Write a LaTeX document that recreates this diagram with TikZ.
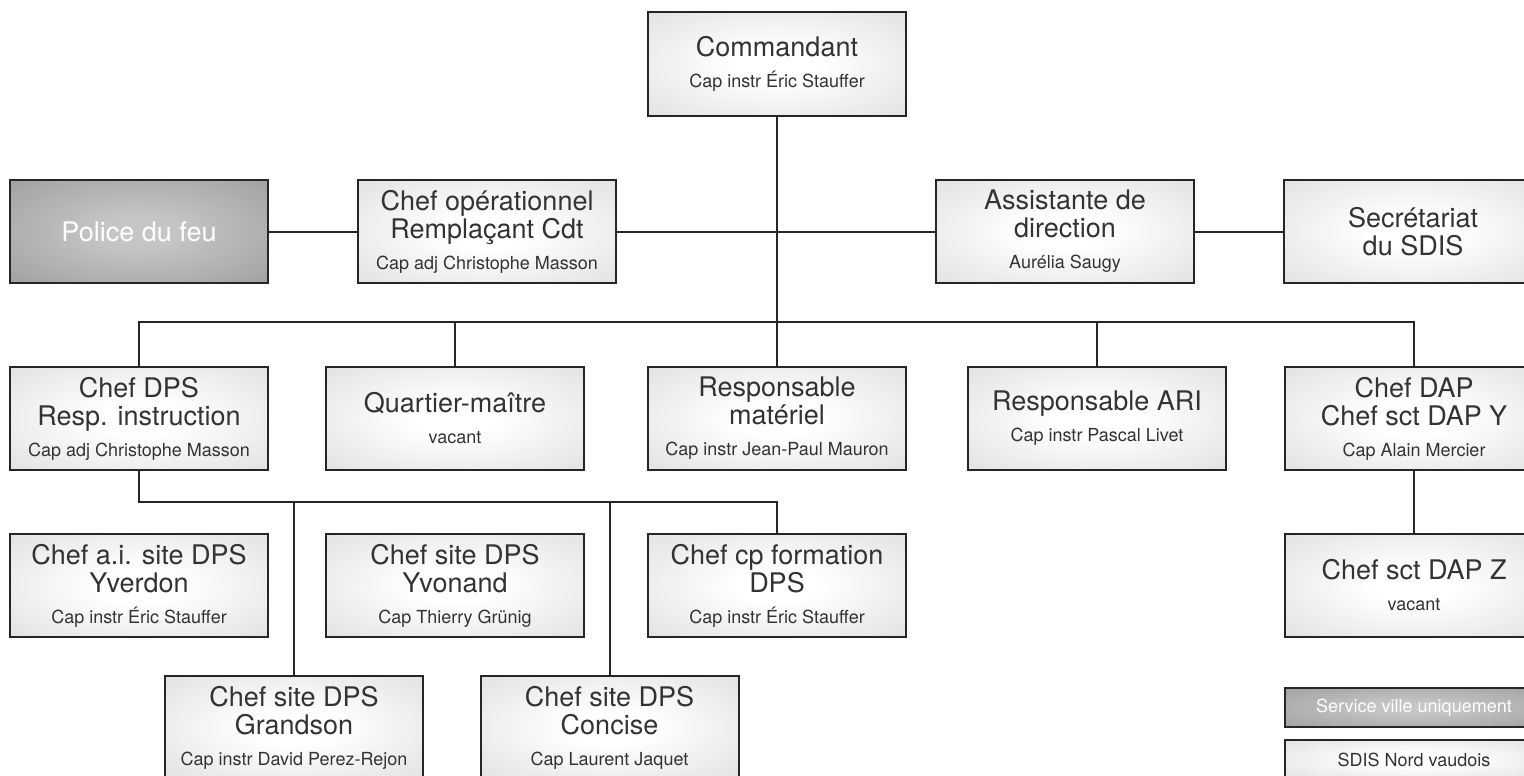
\documentclass[tikz,border=0pt]{standalone}
\usepackage{fontspec}
\setmainfont{TeX Gyre Heros}
\definecolor{txt}{HTML}{333333}
\definecolor{edge}{HTML}{262626}
\newcommand{\ttl}{\fontsize{27}{28}\selectfont}
\newcommand{\sbt}{\fontsize{18}{20}\selectfont}
\pgfdeclareradialshading{softlight}{\pgfpoint{0bp}{0bp}}{color(0bp)=(white); color(8bp)=(white); color(42bp)=(black!14); color(50bp)=(black!18)}
\pgfdeclareradialshading{softdark}{\pgfpoint{0bp}{0bp}}{color(0bp)=(black!22); color(8bp)=(black!23); color(42bp)=(black!40); color(50bp)=(black!46)}
\tikzset{
  box/.style={draw=edge, line width=2pt, minimum width=258pt, minimum height=103pt,
    inner sep=0pt, shading=softlight, text=txt, align=center, font=\ttl},
  darkbox/.style={box, shading=softdark, text=white},
  legbox/.style={minimum height=39pt, font=\sbt},
  conn/.style={draw=edge, line width=2pt},
}
\begin{document}
\begin{tikzpicture}[x=1pt,y=-1pt]
\useasboundingbox (0,0) rectangle (1524,776);
\clip (0,0) rectangle (1524,776);
% row 0
\node[box] (cmd) at (777,64) {Commandant\\[3pt]{\sbt Cap instr Éric Stauffer}};
% row 1
\node[darkbox] (pol) at (139,231.5) {Police du feu};
\node[box] (cop) at (487,231.5) {Chef opérationnel\\Remplaçant Cdt\\[3pt]{\sbt Cap adj Christophe Masson}};
\node[box] (ass) at (1065,231.5) {Assistante de\\direction\\[3pt]{\sbt Aurélia Saugy}};
\node[box] (sec) at (1413,231.5) {Secrétariat\\du SDIS};
% row 2
\node[box] (dps) at (139,418.5) {Chef DPS\\Resp. instruction\\[3pt]{\sbt Cap adj Christophe Masson}};
\node[box] (qm) at (455,418.5) {Quartier-maître\\[3pt]{\sbt vacant}};
\node[box] (rm) at (777,418.5) {Responsable\\matériel\\[3pt]{\sbt Cap instr Jean-Paul Mauron}};
\node[box] (ari) at (1097,418.5) {Responsable ARI\\[3pt]{\sbt Cap instr Pascal Livet}};
\node[box] (dap) at (1414,418.5) {Chef DAP\\Chef sct DAP Y\\[3pt]{\sbt Cap Alain Mercier}};
% row 3
\node[box] (yve) at (139,585.5) {Chef a.i. site DPS\\Yverdon\\[3pt]{\sbt Cap instr Éric Stauffer}};
\node[box] (yvo) at (455,585.5) {Chef site DPS\\Yvonand\\[3pt]{\sbt Cap Thierry Grünig}};
\node[box] (cpf) at (777,585.5) {Chef cp formation\\DPS\\[3pt]{\sbt Cap instr Éric Stauffer}};
\node[box] (dapz) at (1414,585.5) {Chef sct DAP Z\\[3pt]{\sbt vacant}};
% row 4
\node[box] (gra) at (294,727.5) {Chef site DPS\\Grandson\\[3pt]{\sbt Cap instr David Perez-Rejon}};
\node[box] (con) at (609.5,727.5) {Chef site DPS\\Concise\\[3pt]{\sbt Cap Laurent Jaquet}};
% legend
\node[darkbox, legbox] (leg1) at (1414,707.5) {Service ville uniquement};
\node[box, legbox] (leg2) at (1414,759.5) {SDIS Nord vaudois};
% connectors
\coordinate (bus) at (777,322);
\coordinate (sub) at (139,502);
\draw[conn] (cmd.south) -- (rm.north);
\draw[conn] (pol.east) -- (cop.west);
\draw[conn] (cop.east) -- (ass.west);
\draw[conn] (ass.east) -- (sec.west);
\draw[conn] (dps.north) |- (bus) -| (dap.north);
\draw[conn] (qm.north) -- (qm.north |- bus);
\draw[conn] (ari.north) -- (ari.north |- bus);
\draw[conn] (dps.south) |- (sub) -| (cpf.north);
\draw[conn] (gra.north) -- (gra.north |- sub);
\draw[conn] (con.north) -- (con.north |- sub);
\draw[conn] (dap.south) -- (dapz.north);
\end{tikzpicture}
\end{document}
